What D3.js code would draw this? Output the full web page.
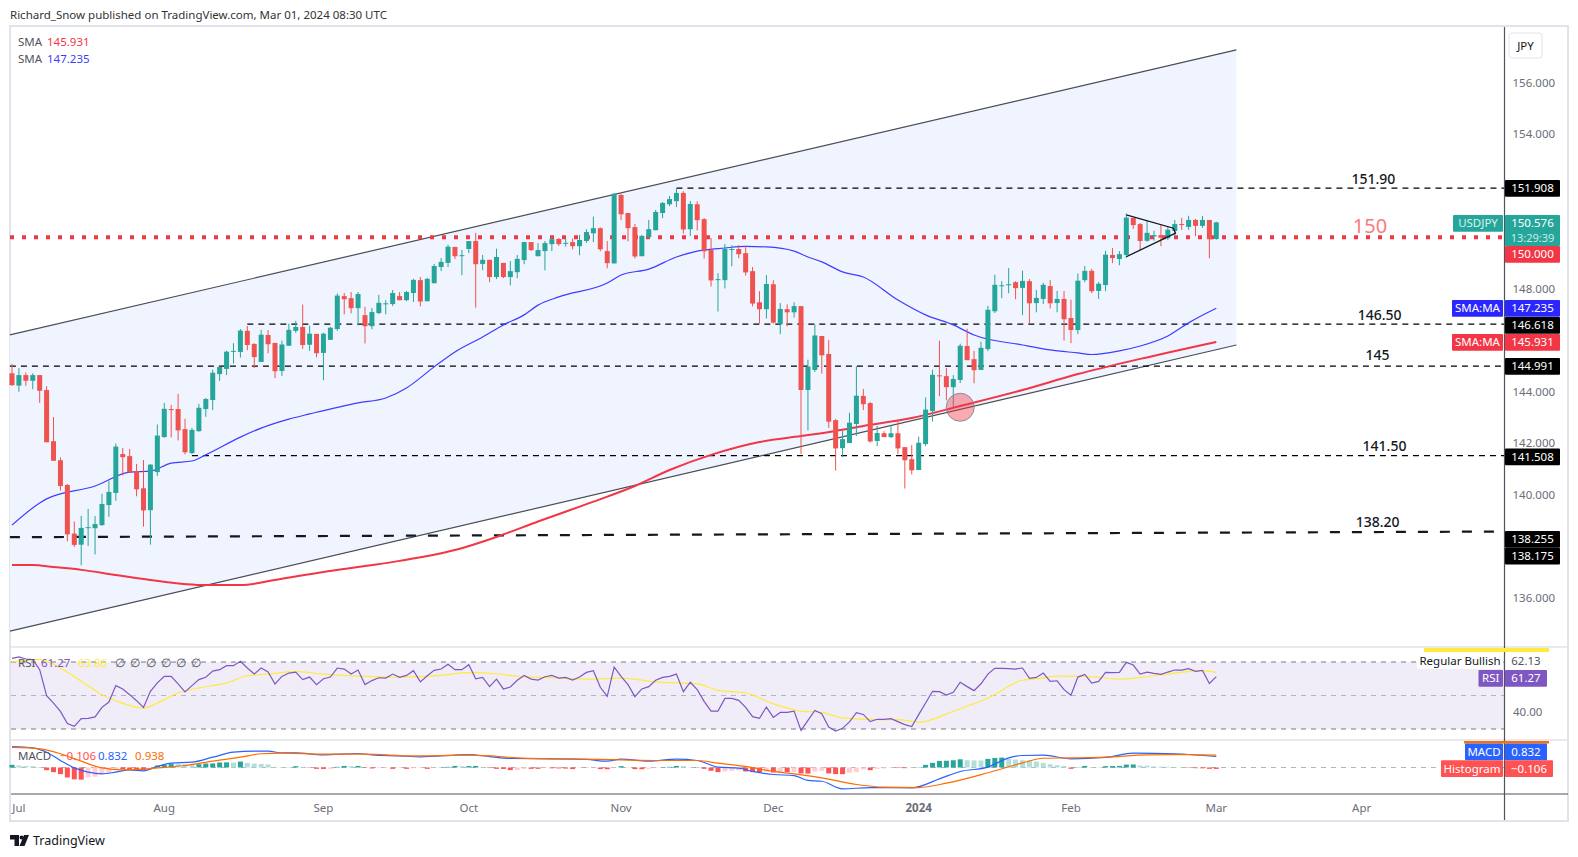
<!DOCTYPE html>
<html>
<head>
	<meta http-equiv="Content-Type" content="text/html; charset=utf-8">
	<title>USDJPY</title>
	<script src="https://d3js.org/d3.v7.min.js"></script>
	<style>
		body { margin: 0; background: #fff; }
		text { font-family: 'Noto Sans', sans-serif; font-size: 11.5px; }
	</style>
</head>
<body>
<script>
	// daily candles, 3 Jul 2023 to 1 Mar 2024
	var opens = [144.71,144.23,144.64,144.42,144.64,144.06,142.07,141.33,140.37,138.48,138.05,138.71,138.69,138.81,139.59,140.06,141.57,141.49,140.91,140.24,139.39,140.87,142.23,143.32,143.32,142.54,141.61,142.46,143.32,143.67,144.68,144.88,145.56,145.54,146.36,145.85,145.15,146.20,145.89,144.80,145.78,146.36,146.51,145.82,146.24,145.50,146.01,146.43,147.71,147.63,147.24,146.97,146.54,147.05,147.41,147.40,147.71,147.55,147.83,148.33,147.51,148.21,148.84,149.00,149.62,149.28,149.54,149.85,148.96,149.12,148.45,149.00,148.45,148.64,149.11,149.81,149.26,149.46,149.73,149.93,149.76,149.81,149.65,149.85,150.15,150.35,149.46,148.98,151.64,150.94,150.39,149.26,150.00,150.27,150.94,151.28,151.40,151.72,150.31,151.28,150.70,149.50,148.35,148.33,149.52,149.54,149.38,148.68,147.47,147.20,148.17,146.62,147.20,147.08,147.32,144.06,144.84,146.16,145.46,142.89,141.80,142.00,142.74,143.83,143.55,142.08,142.38,142.23,142.38,141.84,141.37,140.95,141.96,143.24,144.63,144.60,144.17,144.45,145.77,145.26,144.84,145.65,147.12,148.11,148.15,148.25,148.03,148.29,147.44,147.60,148.10,147.44,147.60,146.86,146.39,148.33,148.69,147.91,148.14,149.31,149.15,149.31,150.75,150.51,149.86,150.03,150.08,149.96,150.24,150.51,150.40,150.67,150.44,150.67,149.93];
	var highs = [145.08,144.91,144.74,144.71,144.64,144.21,143.01,141.44,140.41,138.95,139.17,139.44,139.16,140.03,140.53,141.98,141.81,141.77,141.19,141.34,141.18,142.72,143.56,143.48,143.91,142.94,142.59,143.52,143.75,144.85,144.97,145.59,145.88,146.43,146.55,145.88,146.40,146.39,145.89,145.98,146.64,146.75,147.38,146.56,146.24,146.29,146.52,147.81,147.83,147.87,147.87,147.29,147.25,147.76,147.55,147.95,147.87,147.91,148.38,148.45,148.42,148.96,149.19,149.71,149.62,149.50,149.85,150.17,149.31,149.12,149.55,149.00,149.07,149.31,149.81,149.81,149.77,149.85,150.01,149.97,149.96,149.95,150.09,150.31,150.80,150.38,149.85,151.71,151.68,150.94,150.51,150.09,150.67,151.06,151.37,151.60,151.91,151.79,151.41,151.40,150.74,149.97,148.60,149.74,149.69,149.69,149.65,148.84,147.90,148.53,148.33,147.44,147.39,147.47,147.32,145.24,146.61,146.16,146.01,142.94,142.47,143.18,144.98,144.10,143.59,142.67,142.46,142.68,142.89,141.84,141.92,142.25,143.77,144.85,145.98,144.92,144.64,145.86,146.44,145.58,145.94,147.33,148.54,148.29,148.80,148.29,148.70,148.37,147.95,148.23,148.33,147.91,147.91,147.57,148.59,148.88,148.77,148.26,149.47,149.58,149.46,150.92,150.75,150.55,150.64,150.25,150.47,150.39,150.67,150.75,150.83,150.71,150.83,150.67,150.60];
	var lows = [144.22,143.99,144.22,144.09,143.56,142.03,141.31,140.15,138.18,137.96,137.25,138.00,137.67,138.78,139.13,139.76,140.74,140.86,139.93,138.75,138.05,140.72,142.21,142.22,142.10,141.56,141.57,142.44,143.02,143.28,144.41,144.64,145.09,145.32,145.61,144.91,145.15,145.49,144.52,144.61,145.78,146.28,145.65,145.58,145.33,144.44,146.01,146.36,147.00,147.04,146.57,145.87,146.42,147.01,147.00,147.32,147.55,147.51,147.48,147.31,147.51,148.21,148.68,148.84,149.15,148.52,149.38,147.26,148.72,148.25,148.37,148.41,148.13,148.41,148.95,149.46,149.26,148.71,149.46,149.66,149.63,149.52,149.30,149.78,149.81,149.45,148.79,148.98,150.66,149.84,149.17,149.26,149.94,150.27,150.74,151.21,151.17,150.14,150.04,150.26,149.17,148.08,147.11,148.01,148.87,149.18,148.51,147.31,146.65,146.84,146.64,146.23,146.53,146.88,141.58,142.49,144.76,144.70,142.59,140.93,141.45,142.00,142.27,143.28,142.02,141.88,142.23,142.19,141.56,140.23,140.78,140.95,141.88,142.84,143.82,143.66,143.42,144.33,145.22,144.32,144.84,145.57,147.05,147.63,147.82,147.59,146.97,146.64,147.08,147.40,147.23,147.08,145.98,145.88,146.23,148.25,147.82,147.60,147.90,148.99,148.91,149.19,150.32,149.49,149.82,149.86,149.65,149.89,150.02,150.28,150.28,150.04,150.36,149.18,149.90];
	var closes = [144.25,144.64,144.42,144.64,144.03,142.03,141.31,140.33,138.45,138.04,138.70,138.73,138.85,139.63,140.10,141.86,141.45,140.86,140.20,139.38,141.16,142.29,143.33,143.28,142.49,141.64,142.51,143.37,143.71,144.73,144.96,145.55,145.58,146.37,145.81,145.34,146.21,145.84,144.79,145.83,146.40,146.51,145.81,146.25,145.49,146.25,146.48,147.73,147.59,147.24,147.79,146.54,147.09,147.45,147.43,147.83,147.55,147.87,148.34,147.50,148.38,148.88,149.04,149.63,149.26,149.30,149.85,148.95,149.12,148.45,149.23,148.45,148.68,149.16,149.81,149.50,149.50,149.77,149.92,149.73,149.78,149.65,149.89,150.20,150.35,149.53,148.99,151.69,150.89,150.35,149.25,150.05,150.31,150.98,151.33,151.48,151.72,150.30,151.29,150.66,149.45,148.32,148.37,149.55,149.54,149.34,148.63,147.42,147.20,148.18,146.68,147.21,147.08,147.32,144.06,144.97,146.18,145.41,142.83,141.79,142.15,142.79,143.84,143.51,142.06,142.39,142.23,142.38,141.79,141.33,140.94,142.01,143.30,144.65,144.61,144.17,144.49,145.78,145.22,144.83,145.70,147.18,148.15,148.13,148.17,148.02,148.30,147.43,147.64,148.15,147.43,147.60,146.81,146.39,148.31,148.69,147.90,148.19,149.32,149.19,149.34,150.76,150.47,149.85,150.17,150.08,149.98,150.29,150.51,150.49,150.67,150.44,150.67,149.92,150.576];

	// moving averages, read at the bars where the curve bends
	var sma50Bars = [0,4,5,12,17,20,23,26,28,33,36,40,43,50,54,57,61,64,68,71,74,76,79,86,88,92,96,99,103,106,109,113,115,117,120,123,128,132,136,139,146,150,154,156,160,163,167,170,174];
	var sma50Values = [138.81,139.67,139.83,140.33,140.87,140.91,141.22,141.30,141.54,142.23,142.58,142.93,143.13,143.56,143.75,144.14,144.96,145.54,146.12,146.59,146.98,147.36,147.68,148.22,148.53,148.76,149.23,149.46,149.58,149.64,149.62,149.46,149.23,149.04,148.65,148.45,147.56,146.98,146.59,146.20,145.81,145.62,145.50,145.44,145.58,145.77,146.16,146.67,147.235];
	var sma200Bars = [0,3,6,10,15,20,28,33,38,45,51,56,64,70,76,84,90,95,101,108,114,119,123,130,137,146,154,163,174];
	var sma200Values = [137.26,137.26,137.18,137.07,136.87,136.68,136.48,136.48,136.68,136.99,137.22,137.42,137.84,138.35,138.95,139.72,140.33,140.95,141.54,142.04,142.27,142.47,142.66,142.97,143.44,144.06,144.68,145.27,145.931];

	// drawn objects on the price pane
	var channelBars = [-0.3, 176.9];
	var channelUpper = [146.2, 157.28];
	var channelLower = [134.69, 145.81];
	var levelValues = [151.908, 146.618, 144.991, 141.508];
	var levelStartBars = [96, 34, -0.3, 26];
	var levelNames = ["151.90", "146.50", "145", "141.50"];
	var levelNameBars = [196.7, 197.6, 197.3, 198.3];
	var levelNameGaps = [4.5, 4.5, 6, 4.5];
	var fibLine = [138.34, 138.56];
	var fibBars = [-0.3, 215.6];
	var triangleBars = [161, 167.8, 168.1, 161];
	var triangleValues = [150.87, 150.35, 150.16, 149.24];
	var circleBar = 137;
	var circleValue = 143.39;

	var priceTicks = [156, 154, 148, 144, 142, 140, 136];
	var monthBars = [1, 22, 45, 66, 88, 110, 131, 153, 174, 195];
	var monthNames = ["Jul", "Aug", "Sep", "Oct", "Nov", "Dec", "2024", "Feb", "Mar", "Apr"];

	var rsi = [72.2,73.0,71.8,71.4,65.4,49.9,45.5,40.5,33.2,31.6,36.2,36.4,37.2,42.9,46.1,55.9,53.9,50.5,46.9,42.9,52.5,57.5,61.4,61.4,56.9,52.1,55.9,59.5,60.9,64.6,65.4,67.8,67.8,70.4,66.4,62.8,66.4,64.0,56.9,61.4,63.4,64.0,59.5,61.0,56.5,60.0,61.0,66.4,65.8,62.8,65.2,56.5,58.9,60.6,60.4,62.8,60.8,62.0,64.8,58.1,61.8,65.0,65.8,68.6,65.4,65.4,68.4,60.0,60.8,55.3,59.8,53.9,55.1,59.1,62.0,59.8,59.2,61.2,62.0,60.4,60.8,59.2,61.0,63.8,64.8,54.9,49.5,67.0,61.4,56.5,49.3,53.9,55.3,59.1,60.8,61.4,62.8,52.3,57.9,53.5,46.5,40.7,40.7,48.3,48.3,47.1,42.9,37.4,36.4,43.1,36.9,39.9,39.9,40.7,29.2,35.2,41.1,39.1,31.2,28.8,30.4,34.2,39.7,38.7,34.4,35.8,35.8,36.2,34.4,32.6,31.4,38.6,45.5,52.5,52.3,50.3,51.9,57.9,55.3,52.9,57.0,62.8,66.2,66.2,66.0,65.8,66.4,60.2,60.8,63.4,58.4,58.8,53.5,50.1,61.0,62.6,57.4,58.4,63.8,63.6,63.8,69.8,68.2,62.8,64.0,63.2,62.6,64.0,65.2,65.2,66.0,64.4,65.0,57.2,61.27];
	var rsiMaBars = [0,4,7,10,13,15,19,21,24,27,31,34,37,41,45,50,56,62,66,70,73,78,83,88,93,99,102,106,110,114,117,120,125,128,131,136,141,146,149,151,155,160,165,172,174];
	var rsiMaValues = [70.2,71.4,66.4,58.5,50.5,46.9,42.5,45.5,51.5,54.5,57.5,61.8,62.8,64.2,62.8,61.6,61.0,62.0,63.6,63.0,61.4,60.6,59.8,60.4,58.1,56.9,53.1,51.5,45.1,40.7,39.9,36.6,35.6,35.6,34.0,40.6,48.5,59.1,60.4,61.6,61.4,59.8,61.8,64.8,63.86];
	var rsiLevels = [70, 50, 30];
	var rsiTicks = [40];

	var macdBars = [0,3,5,7,9,11,13,15,17,19,21,23,26,29,32,35,37,39,41,45,50,52,56,59,66,69,72,78,83,86,88,92,96,99,102,105,107,110,113,115,117,120,124,130,134,137,141,144,146,149,153,158,162,168,174];
	var macdValues = [1.59,1.49,1.16,0.53,-0.03,-0.35,-0.48,-0.35,-0.18,-0.25,0.08,0.33,0.40,0.78,1.16,1.24,1.24,1.11,1.11,0.96,1.06,0.96,0.88,0.81,0.98,0.83,0.68,0.66,0.61,0.48,0.63,0.48,0.63,0.53,0.03,-0.05,-0.30,-0.53,-0.61,-0.98,-1.04,-1.62,-1.52,-1.54,-0.86,-0.30,0.03,0.73,0.91,0.93,0.66,0.76,1.09,1.04,0.832];
	var signalBars = [0,4,7,10,13,16,19,21,25,29,33,36,39,45,51,58,66,71,73,78,85,88,93,99,102,106,110,113,117,122,126,131,135,141,146,149,153,158,164,170,174];
	var signalValues = [1.52,1.41,1.04,0.48,-0.03,-0.18,-0.13,-0.03,0.15,0.48,0.78,1.04,1.09,1.01,1.01,0.88,0.93,0.81,0.73,0.66,0.61,0.58,0.53,0.53,0.33,0.08,-0.30,-0.48,-0.78,-1.29,-1.49,-1.52,-1.19,-0.40,0.35,0.70,0.73,0.78,0.96,0.98,0.938];
	var histogram = [0.2,0.15,0.12,0.1,-0.02,-0.2,-0.35,-0.5,-0.75,-0.9,-0.92,-0.75,-0.7,-0.5,-0.4,-0.1,-0.12,-0.14,-0.16,-0.18,-0.02,0.15,0.2,0.28,0.27,0.25,0.2,0.25,0.3,0.31,0.38,0.39,0.38,0.45,0.35,0.3,0.27,0.23,0.05,0.04,0.03,0.1,0.05,-0.03,-0.1,-0.11,-0.1,0.05,0.12,0.1,0.12,-0.03,-0.07,-0.05,-0.04,-0.1,-0.03,-0.1,-0.05,-0.04,-0.1,-0.02,0.02,0.05,0.12,0.1,0.11,0.12,0.04,-0.04,-0.1,-0.11,-0.2,-0.19,-0.1,-0.1,-0.1,-0.03,-0.06,-0.07,-0.08,-0.12,-0.02,-0.02,-0.01,-0.12,-0.13,-0.03,0.1,0.02,-0.12,-0.13,-0.1,-0.03,0.02,0.05,0.12,0.1,0.02,0.03,-0.1,-0.25,-0.35,-0.3,-0.25,-0.22,-0.3,-0.35,-0.36,-0.33,-0.38,-0.35,-0.35,-0.33,-0.45,-0.46,-0.3,-0.25,-0.45,-0.5,-0.51,-0.4,-0.35,-0.15,-0.2,-0.1,-0.07,-0.03,-0.04,-0.05,-0.02,0.02,0.2,0.35,0.5,0.51,0.55,0.62,0.55,0.54,0.53,0.65,0.72,0.75,0.65,0.6,0.55,0.54,0.45,0.35,0.25,0.18,0.12,-0.1,0.02,0.12,0.03,0.02,0.1,0.11,0.12,0.22,0.23,0.15,0.14,0.08,0.07,0.06,0.03,0.02,-0.03,-0.05,-0.06,-0.1,-0.106];

	var WIDTH = 1578, HEIGHT = 857;
	var AXIS_X = 1504.5;

	var upColor = "#26a69a", downColor = "#ef5350", red = "#f23645", blue = "#3d3dff";
	var frameColor = "#e0e3eb", axisColor = "#50535e", tickColor = "#6a6d78";

	var x = d3.scaleLinear().domain([0, 174]).range([12, 1216.3]);
	var y = d3.scaleLinear().domain([136, 156]).range([597.4, 82.8]);
	var rsiY = d3.scaleLinear().domain([30, 70]).range([729, 662]);
	var macdY = d3.scaleLinear().domain([-2, 2]).range([793.9, 741.1]);

	var svg = d3.select("body").append("svg")
		.attr("width", WIDTH)
		.attr("height", HEIGHT);

	// panel frame
	svg.append("rect").attr("x", 10).attr("y", 26).attr("width", 1558).attr("height", 795)
		.attr("fill", "#fff").attr("stroke", frameColor).attr("stroke-width", 2);
	[647, 740].forEach(function (py) {
		svg.append("line").attr("x1", 10).attr("x2", 1568).attr("y1", py).attr("y2", py)
			.attr("stroke", frameColor).attr("stroke-width", 1.5);
	});

	// channel
	var channelArea = d3.area()
		.x(function (d) { return x(d); })
		.y0(function (d, i) { return y(channelLower[i]); })
		.y1(function (d, i) { return y(channelUpper[i]); });
	svg.append("path").attr("d", channelArea(channelBars)).attr("fill", "#f0f4ff");
	[channelUpper, channelLower].forEach(function (edge) {
		svg.append("line")
			.attr("x1", x(channelBars[0])).attr("x2", x(channelBars[1]))
			.attr("y1", y(edge[0])).attr("y2", y(edge[1]))
			.attr("stroke", "#4a4d57").attr("stroke-width", 1.2);
	});

	// horizontal levels
	levelValues.forEach(function (v, i) {
		svg.append("line")
			.attr("x1", x(levelStartBars[i])).attr("x2", AXIS_X)
			.attr("y1", y(v)).attr("y2", y(v))
			.attr("stroke", "#000").attr("stroke-width", 1.3)
			.attr("stroke-dasharray", "6 5");
		svg.append("text")
			.attr("x", x(levelNameBars[i])).attr("y", y(v) - levelNameGaps[i])
			.attr("text-anchor", "middle")
			.attr("font-weight", 500)
			.style("font-size", "14px")
			.attr("fill", "#131722")
			.text(levelNames[i]);
	});
	svg.append("line")
		.attr("x1", x(fibBars[0])).attr("x2", AXIS_X)
		.attr("y1", y(fibLine[0])).attr("y2", y(fibLine[1]))
		.attr("stroke", "#131722").attr("stroke-width", 2.2)
		.attr("stroke-dasharray", "10 12");
	svg.append("text")
		.attr("x", x(197.3)).attr("y", y(fibLine[1]) - 4.5)
		.attr("text-anchor", "middle").attr("font-weight", 500).style("font-size", "14px").attr("fill", "#131722")
		.text("138.20");

	svg.append("line")
		.attr("x1", 10).attr("x2", AXIS_X)
		.attr("y1", y(150)).attr("y2", y(150))
		.attr("stroke", red).attr("stroke-width", 4)
		.attr("stroke-dasharray", "4 8");
	svg.append("text")
		.attr("x", x(196.2)).attr("y", y(150) - 4)
		.attr("text-anchor", "middle").style("font-size", "20px").attr("fill", "#f77c80")
		.text("150");

	// moving averages
	var line = d3.line()
		.x(function (d) { return x(d[0]); })
		.y(function (d) { return y(d[1]); });
	var smooth = d3.line()
		.curve(d3.curveMonotoneX)
		.x(function (d) { return x(d[0]); })
		.y(function (d) { return y(d[1]); });
	svg.append("path").attr("d", smooth(d3.zip(sma200Bars, sma200Values)))
		.attr("fill", "none").attr("stroke", red).attr("stroke-width", 2);
	svg.append("path").attr("d", smooth(d3.zip(sma50Bars, sma50Values)))
		.attr("fill", "none").attr("stroke", blue).attr("stroke-width", 1.2);

	// candles
	var candle = svg.append("g").selectAll("g")
		.data(d3.range(opens.length))
		.enter().append("g")
		.attr("fill", function (i) { return closes[i] >= opens[i] ? upColor : downColor; })
		.attr("stroke", function (i) { return closes[i] >= opens[i] ? upColor : downColor; });
	candle.append("line")
		.attr("x1", function (i) { return x(i); })
		.attr("x2", function (i) { return x(i); })
		.attr("y1", function (i) { return y(highs[i]); })
		.attr("y2", function (i) { return y(lows[i]); })
		.attr("stroke-width", 1);
	candle.append("rect")
		.attr("x", function (i) { return x(i) - 2.5; })
		.attr("width", 5)
		.attr("y", function (i) { return y(Math.max(opens[i], closes[i])); })
		.attr("height", function (i) { return Math.max(1, Math.abs(y(opens[i]) - y(closes[i]))); })
		.attr("stroke", "none");

	// triangle and the marked touch point
	svg.append("path")
		.attr("d", line(d3.zip(triangleBars, triangleValues)))
		.attr("fill", "none").attr("stroke", "#131722").attr("stroke-width", 1.3);
	svg.append("circle")
		.attr("cx", x(circleBar)).attr("cy", y(circleValue)).attr("r", 14)
		.attr("fill", "rgba(242,54,69,0.42)").attr("stroke", "#8a8d96").attr("stroke-width", 1);

	// right axis and its ticks
	var axisG = svg.append("g")
		.attr("transform", "translate(" + AXIS_X + ",0)")
		.call(d3.axisRight(y).tickValues(priceTicks).tickSize(0).tickPadding(8).tickFormat(d3.format(".3f")));
	axisG.select(".domain").remove();
	axisG.selectAll("text").attr("fill", tickColor).style("font-size", "11.5px");

	// RSI pane
	svg.append("rect")
		.attr("x", 11).attr("width", AXIS_X - 11)
		.attr("y", rsiY(70)).attr("height", rsiY(30) - rsiY(70))
		.attr("fill", "#f0edf8");
	rsiLevels.forEach(function (v) {
		svg.append("line")
			.attr("x1", 11).attr("x2", AXIS_X)
			.attr("y1", rsiY(v)).attr("y2", rsiY(v))
			.attr("stroke", v === 50 ? "#b2b5be" : "#787b86").attr("stroke-width", 1)
			.attr("stroke-dasharray", "5 5");
	});
	var rsiLine = d3.line()
		.x(function (d) { return x(d[0]); })
		.y(function (d) { return rsiY(d[1]); });
	svg.append("path").attr("d", rsiLine.curve(d3.curveMonotoneX)(d3.zip(rsiMaBars, rsiMaValues)))
		.attr("fill", "none").attr("stroke", "#ffeb3b").attr("stroke-width", 1.2);
	svg.append("path").attr("d", rsiLine.curve(d3.curveLinear)(rsi.map(function (v, i) { return [i, v]; })))
		.attr("fill", "none").attr("stroke", "#7e57c2").attr("stroke-width", 1.2);
	rsiTicks.forEach(function (v) {
		svg.append("text").attr("x", 1513).attr("y", rsiY(v) + 4).attr("fill", tickColor)
			.text(v.toFixed(2));
	});

	// MACD pane
	svg.append("line")
		.attr("x1", 11).attr("x2", AXIS_X)
		.attr("y1", macdY(0)).attr("y2", macdY(0))
		.attr("stroke", "#b2b5be").attr("stroke-dasharray", "5 5");
	svg.append("g").selectAll("rect")
		.data(histogram)
		.enter().append("rect")
		.attr("x", function (d, i) { return x(i) - 2.5; })
		.attr("width", 5)
		.attr("y", function (d) { return macdY(Math.max(d, 0)); })
		.attr("height", function (d) { return Math.abs(macdY(d) - macdY(0)); })
		.attr("fill", function (d, i) {
			var prev = i ? histogram[i - 1] : d;
			if (d >= 0) return d >= prev ? "#26a69a" : "#b2dfdb";
			return d <= prev ? "#ff5252" : "#ffcdd2";
		});
	var macdLine = d3.line()
		.curve(d3.curveMonotoneX)
		.x(function (d) { return x(d[0]); })
		.y(function (d) { return macdY(d[1]); });
	svg.append("path").attr("d", macdLine(d3.zip(macdBars, macdValues)))
		.attr("fill", "none").attr("stroke", "#2962ff").attr("stroke-width", 1.2);
	svg.append("path").attr("d", macdLine(d3.zip(signalBars, signalValues)))
		.attr("fill", "none").attr("stroke", "#ff6d00").attr("stroke-width", 1.2);

	// time axis
	svg.append("line").attr("x1", 11).attr("x2", 1568).attr("y1", 794).attr("y2", 794)
		.attr("stroke", axisColor).attr("stroke-width", 1.2);
	svg.append("line").attr("x1", AXIS_X).attr("x2", AXIS_X).attr("y1", 27).attr("y2", 820)
		.attr("stroke", axisColor).attr("stroke-width", 1.2);
	monthBars.forEach(function (b, i) {
		svg.append("text")
			.attr("x", x(b)).attr("y", 812)
			.attr("text-anchor", "middle")
			.attr("fill", tickColor)
			.attr("font-weight", monthNames[i] === "2024" ? 700 : 400)
			.text(monthNames[i]);
	});

	// axis tags
	function box(bx, by, w, h, fill, label, color) {
		svg.append("rect").attr("x", bx).attr("y", by).attr("width", w).attr("height", h)
			.attr("rx", 1).attr("fill", fill);
		if (label) {
			svg.append("text").attr("x", bx + w / 2).attr("y", by + h / 2 + 4)
				.attr("text-anchor", "middle").attr("fill", color || "#fff")
				.text(label);
		}
	}
	box(1505, 180, 55, 16.7, "#000", "151.908");
	box(1453, 215, 50, 16.7, upColor, "USDJPY", "#d6f2ef");
	box(1505, 215, 55, 31, upColor);
	svg.append("text").attr("x", 1532.5).attr("y", 227).attr("text-anchor", "middle").attr("fill", "#fff").text("150.576");
	svg.append("text").attr("x", 1532.5).attr("y", 241.5).attr("text-anchor", "middle").attr("fill", "#c8ebe7").style("font-size", "11px").text("13:29:39");
	box(1505, 246, 55, 16.7, red, "150.000");
	box(1452, 300, 51, 16.7, "#2b26ff", "SMA:MA");
	box(1505, 300, 55, 16.7, "#2b26ff", "147.235");
	box(1505, 317, 55, 16.7, "#000", "146.618");
	box(1452, 334, 51, 16.7, red, "SMA:MA");
	box(1505, 334, 55, 16.7, red, "145.931");
	box(1505, 358, 55, 16.7, "#000", "144.991");
	box(1505, 448.5, 55, 16.7, "#000", "141.508");
	box(1505, 531, 55, 16.7, "#000", "138.255");
	box(1505, 547.7, 55, 16.7, "#000", "138.175");

	// JPY button
	svg.append("rect").attr("x", 1509).attr("y", 33).attr("width", 33).attr("height", 25).attr("rx", 3)
		.attr("fill", "#fff").attr("stroke", frameColor);
	svg.append("text").attr("x", 1525.5).attr("y", 50).attr("text-anchor", "middle").attr("fill", "#131722").text("JPY");

	// indicator tags
	box(1417, 652, 86, 17, "#fff", "Regular Bullish", "#131722");
	svg.append("rect").attr("x", 1424).attr("y", 648).attr("width", 125).attr("height", 4).attr("fill", "#ffeb3b");
	svg.append("text").attr("x", 1526).attr("y", 665).attr("text-anchor", "middle").attr("fill", "#50535e").text("62.13");
	box(1478.5, 670, 24.5, 16.7, "#7e57c2", "RSI");
	box(1505, 670, 42, 16.7, "#7e57c2", "61.27");
	svg.append("rect").attr("x", 1464).attr("y", 741).attr("width", 85).attr("height", 2.5).attr("fill", "#ff6d00");
	box(1465, 743.5, 38, 16.7, "#2962ff", "MACD");
	box(1505, 743.5, 42, 16.7, "#2962ff", "0.832");
	box(1441, 760.2, 62, 16.7, "#ff5252", "Histogram");
	box(1505, 760.2, 48, 16.7, "#ff5252", "\u22120.106");

	// legends
	function legend(items, ly) {
		items.forEach(function (d) {
			svg.append("text").attr("x", d[0]).attr("y", ly).attr("fill", d[2]).text(d[1]);
		});
	}
	legend([[18, "SMA", axisColor], [47, "145.931", red]], 46);
	legend([[18, "SMA", axisColor], [47, "147.235", blue]], 63);
	legend([[18, "RSI", axisColor], [41, "61.27", "#7e57c2"], [78, "63.86", "#ffeb3b"],
		[115, "\u2205", axisColor], [130, "\u2205", axisColor], [146, "\u2205", axisColor],
		[161, "\u2205", axisColor], [176, "\u2205", axisColor], [191, "\u2205", axisColor]], 667);
	legend([[18, "MACD", axisColor], [60, "\u22120.106", "#ff5252"], [98, "0.832", "#2962ff"], [135, "0.938", "#ff6d00"]], 760);

	svg.append("text").attr("x", 10).attr("y", 18.5).attr("fill", "#333").text("Richard_Snow published on TradingView.com, Mar 01, 2024 08:30 UTC");

	// footer logo
	var logo = svg.append("g").attr("fill", "#131722");
	logo.append("path").attr("d", "M10 835h9v11h-4.5v-6.5H10z");
	logo.append("circle").attr("cx", 21.5).attr("cy", 837.5).attr("r", 2);
	logo.append("path").attr("d", "M24 835h5l-4.5 11h-5z");
	svg.append("text").attr("x", 33).attr("y", 845).attr("fill", "#131722").style("font-size", "12.5px").text("TradingView");
</script>
</body>
</html>
